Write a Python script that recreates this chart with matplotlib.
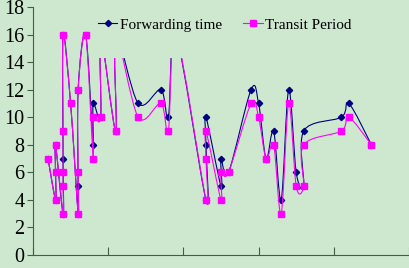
import numpy as np
import matplotlib.pyplot as plt
from matplotlib.path import Path
from matplotlib.patches import PathPatch, Rectangle
from matplotlib.lines import Line2D

plt.rcParams['font.family'] = ['Liberation Serif', 'DejaVu Serif']

BG = "#cde8cf"
NAVY = "#000080"
PINK = "#ff00ff"

# points in drawing order (repeated x = vertical runs)
fwd_x = [2, 3, 3, 3, 4, 4, 4, 5, 6, 6, 6, 7, 8, 8, 9, 9, 11, 11, 14, 17, 18, 19,
         23, 23, 23, 25, 25, 26, 29, 30, 31, 32, 33, 34, 35, 36, 36, 41, 42, 45]
fwd_y = [7, 4, 6, 8, 3, 7, 16, 11, 3, 5, 12, 16, 8, 11, 10, 16, 9, 16, 11, 12, 10, 16,
         4, 8, 10, 5, 7, 6, 12, 11, 7, 9, 4, 12, 6, 5, 9, 10, 11, 8]
tp_x = [2, 3, 3, 3, 4, 4, 4, 4, 4, 5, 6, 6, 6, 7, 8, 8, 9, 9, 11, 11, 14, 17, 18, 19,
        23, 23, 23, 25, 25, 26, 29, 30, 31, 32, 33, 34, 35, 36, 36, 41, 42, 45]
tp_y = [7, 4, 6, 8, 3, 5, 6, 9, 16, 11, 3, 6, 12, 16, 7, 10, 10, 16, 9, 16, 10, 11, 9, 16,
        4, 7, 9, 4, 6, 6, 11, 10, 7, 8, 3, 11, 5, 5, 8, 9, 10, 8]
# peaks that sit behind the legend box in the original
hidden = {(9, 16), (11, 16), (19, 16)}


def smooth_path(xs, ys):
    # excel-like smoothed line: catmull-rom turned into cubic beziers
    p = np.column_stack([xs, ys]).astype(float)
    ext = np.vstack([p[0], p, p[-1]])
    verts, codes = [p[0]], [Path.MOVETO]
    for i in range(len(p) - 1):
        a, b, c, d = ext[i], ext[i + 1], ext[i + 2], ext[i + 3]
        verts += [b + (c - a) / 6, c - (d - b) / 6, c]
        codes += [Path.CURVE4] * 3
    return Path(verts, codes)


fig = plt.figure(figsize=(4.1, 2.68), dpi=100, facecolor=BG)
ax = fig.add_axes([33 / 410, 13 / 268, 376 / 410, 248 / 268], facecolor=BG)

for xs, ys, col, mk, ms, z in [(fwd_x, fwd_y, NAVY, "D", 3.2, 2),
                                (tp_x, tp_y, PINK, "s", 3.8, 3)]:
    ax.add_patch(PathPatch(smooth_path(xs, ys), fill=False, edgecolor=col,
                           lw=0.8, zorder=z))
    keep = [i for i in range(len(xs)) if (xs[i], ys[i]) not in hidden]
    ax.plot([xs[i] for i in keep], [ys[i] for i in keep], ls="none", marker=mk,
            ms=ms, color=col, mec=col, zorder=z + 0.5)

ax.set_xlim(0, 50)
ax.set_ylim(0, 18)
ax.set_xticks(range(0, 51, 10))
ax.set_xticklabels([])
ax.set_yticks(range(0, 19, 2))
ax.tick_params(axis="y", direction="out", length=4, width=0.8, color="#3f5f3f",
               labelsize=14.5, pad=2)
ax.tick_params(axis="x", direction="in", length=6, width=0.8, color="#3f5f3f")
for s in ["top", "right"]:
    ax.spines[s].set_visible(False)
for s in ["left", "bottom"]:
    ax.spines[s].set_color("#3f5f3f")
    ax.spines[s].set_linewidth(0.8)

# legend box (opaque, no border) hides the tops of a few curves
fig.patches.append(Rectangle((97 / 410, 1 - 58 / 268), 263 / 410, 58 / 268,
                             transform=fig.transFigure, facecolor=BG,
                             edgecolor="none", zorder=4))
handles = [Line2D([], [], color=NAVY, marker="D", ms=3.2, lw=0.8),
           Line2D([], [], color=PINK, marker="s", ms=3.8, lw=0.8)]
fig.legend(handles, ["Forwarding time", "Transit Period"], loc="center",
           bbox_to_anchor=(0.548, 0.907), ncol=2, frameon=False, fontsize=11,
           handlelength=1.3, handletextpad=0.15, columnspacing=1.4)

fig.savefig("out.png", dpi=100, facecolor=BG)
